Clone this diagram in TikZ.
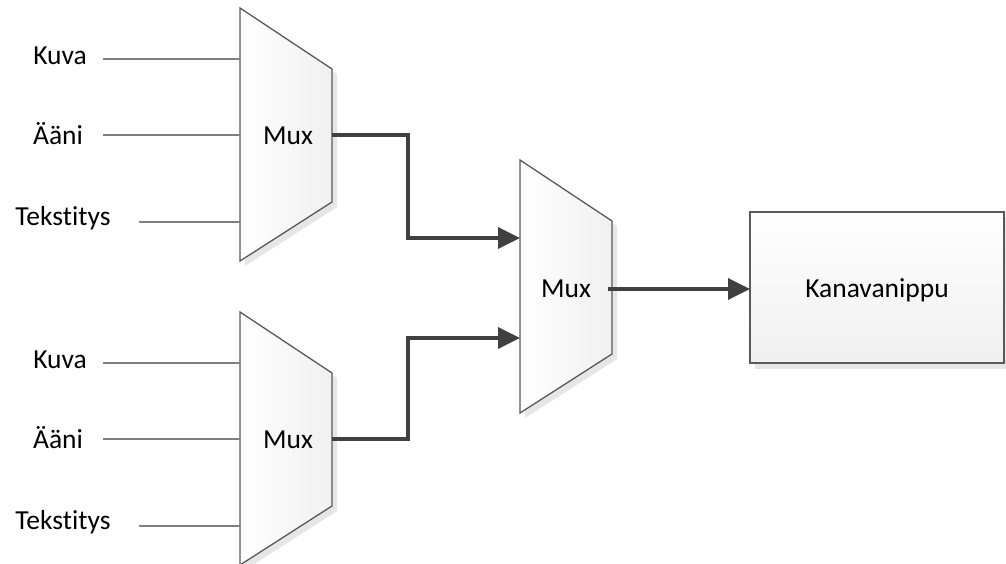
\documentclass[tikz,border=0pt]{standalone}
\usepackage{fontspec}
\setmainfont[Ligatures={NoCommon}]{Carlito}
\usetikzlibrary{arrows.meta,calc}
\definecolor{edge}{HTML}{595959}
\definecolor{conn}{HTML}{404040}
\definecolor{inl}{HTML}{7F7F7F}
\definecolor{shad}{HTML}{E6E6E6}
\tikzset{
  lbl/.style={font=\fontsize{27.5}{32}\selectfont, inner sep=0pt, anchor=center},
  inline/.style={draw=inl, line width=1.4pt},
  conn/.style={draw=conn, line width=3.6pt, -{Triangle[length=22pt,width=21pt]}},
  muxshape/.style={draw=edge, line width=1.3pt, left color=white, right color=black!6},
  boxshape/.style={draw=edge, line width=1.3pt, top color=white, bottom color=black!6},
}
\begin{document}
\begin{tikzpicture}[x=1pt,y=-1pt]
\useasboundingbox (0,0) rectangle (1006,564);
\foreach \nm/\x/\y in {m1/240/8, m2/240/312, m3/520/160}{
  \fill[shad] (\x+5,\y+5) -- (\x+97,\y+66) -- (\x+97,\y+199) -- (\x+5,\y+258) -- cycle;
  \path[muxshape] (\x,\y) -- (\x+92,\y+61) -- (\x+92,\y+194) -- (\x,\y+253) -- cycle;
}
\node[lbl] (mux1) at (288,136) {Mux};
\node[lbl] (mux2) at (288,440) {Mux};
\node[lbl] (mux3) at (566,289) {Mux};
\coordinate (m1in1) at (240,59);
\coordinate (m1in2) at (240,135);
\coordinate (m1in3) at (240,222);
\coordinate (m1out) at (332,135);
\coordinate (m2in1) at (240,363);
\coordinate (m2in2) at (240,439);
\coordinate (m2in3) at (240,526);
\coordinate (m2out) at (332,439);
\coordinate (m3in1) at (520,238);
\coordinate (m3in2) at (520,338);
\coordinate (m3out) at (608,289);
% box
\fill[shad] (755,217) rectangle (1009,369);
\path[boxshape] (750,212) rectangle (1004,363);
\node[lbl] (kana) at (877,290) {Kanavanippu};
\coordinate (kanain) at (750,289);
% input labels
\node[lbl] (k1) at (60,56) {Kuva};
\node[lbl] (a1) at (58,134) {Ääni};
\node[lbl] (t1) at (63,218) {Tekstitys};
\node[lbl] (k2) at (60,360) {Kuva};
\node[lbl] (a2) at (58,438) {Ääni};
\node[lbl] (t2) at (63,522) {Tekstitys};
\coordinate (k1e) at (103,59);
\coordinate (a1e) at (103,135);
\coordinate (t1e) at (139,222);
\coordinate (k2e) at (103,363);
\coordinate (a2e) at (103,439);
\coordinate (t2e) at (139,526);
\draw[inline] (k1e) -- (m1in1);
\draw[inline] (a1e) -- (m1in2);
\draw[inline] (t1e) -- (m1in3);
\draw[inline] (k2e) -- (m2in1);
\draw[inline] (a2e) -- (m2in2);
\draw[inline] (t2e) -- (m2in3);
% connectors
\draw[conn] (m1out) -| (408,238) -- (m3in1);
\draw[conn] (m2out) -| (408,338) -- (m3in2);
\draw[conn] (m3out) -- (kanain);
\end{tikzpicture}
\end{document}
